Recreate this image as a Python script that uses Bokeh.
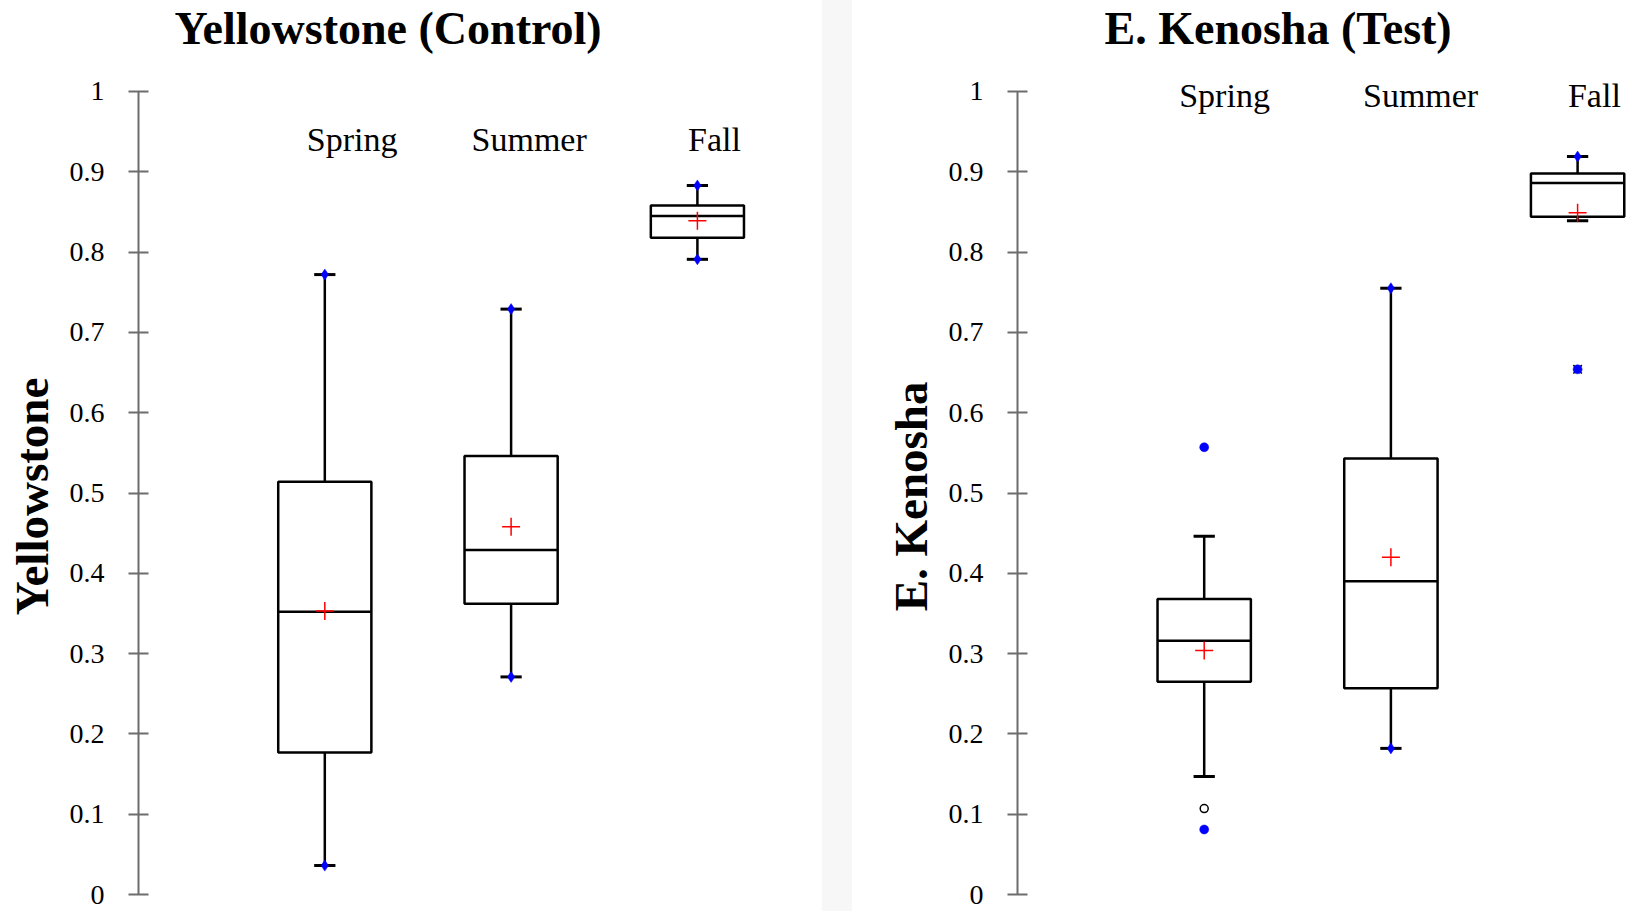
from bokeh.plotting import figure
from bokeh.layouts import row
from bokeh.models import FixedTicker, ColumnDataSource, Div, Range1d
from bokeh.core.properties import value
from bokeh.embed import file_html
from bokeh.resources import INLINE

# ---------------- data ----------------
seasons = ["Spring", "Summer", "Fall"]
season_pos = [1, 2, 3]

# Yellowstone (Control)
ys_whisker_low = [0.036, 0.271, 0.791]
ys_q1 = [0.177, 0.362, 0.818]
ys_median = [0.352, 0.429, 0.845]
ys_q3 = [0.514, 0.546, 0.858]
ys_whisker_high = [0.772, 0.729, 0.883]
ys_mean = [0.353, 0.458, 0.839]
ys_min = [0.036, 0.271, 0.791]
ys_max = [0.772, 0.729, 0.883]
ys_outlier_season = []
ys_outlier_value = []
ys_extreme_season = []
ys_extreme_value = []

# E. Kenosha (Test)
ek_whisker_low = [0.147, 0.182, 0.839]
ek_q1 = [0.265, 0.257, 0.844]
ek_median = [0.316, 0.390, 0.886]
ek_q3 = [0.368, 0.543, 0.898]
ek_whisker_high = [0.446, 0.755, 0.919]
ek_mean = [0.304, 0.420, 0.849]
ek_min = [0.081, 0.182, 0.654]
ek_max = [0.557, 0.755, 0.919]
ek_outlier_season = ["Spring"]
ek_outlier_value = [0.107]
ek_extreme_season = ["Fall"]
ek_extreme_value = [0.654]

y_ticks = [0, 0.1, 0.2, 0.3, 0.4, 0.5, 0.6, 0.7, 0.8, 0.9, 1]
y_tick_labels = ["0", "0.1", "0.2", "0.3", "0.4", "0.5", "0.6", "0.7", "0.8", "0.9", "1"]

FONT = "Liberation Serif"
AXIS_GRAY = "#6d6d6d"
# non-collapsing padding so that the rotated axis title is centred on the 0..1 span
LABEL_PAD = "\u00a0\u00a0\u2009"


def make_panel(title, ylabel, wl, q1, med, q3, wh, mean, vmin, vmax,
               out_s, out_v, ext_s, ext_v, width, border_left, border_right,
               x_end, title_offset, label_dx, label_y):
    p = figure(width=width, height=911, output_backend="svg", toolbar_location=None,
               x_range=Range1d(0, x_end), y_range=Range1d(-0.0149, 1.0473),
               x_axis_location=None, min_border_left=border_left,
               min_border_right=border_right, min_border_top=52, min_border_bottom=5,
               title=title)
    p.outline_line_color = None
    p.grid.visible = False
    p.background_fill_color = "white"
    p.border_fill_color = "white"

    p.title.align = "left"
    p.title.offset = title_offset
    p.title.text_font = FONT
    p.title.text_font_size = "46px"
    p.title.text_font_style = "bold"
    p.title.text_color = "black"
    p.title.standoff = 0

    ax = p.yaxis[0]
    ax.ticker = FixedTicker(ticks=y_ticks)
    ax.major_label_overrides = {t: l for t, l in zip(y_ticks, y_tick_labels)}
    ax.bounds = (0, 1)
    ax.axis_line_color = AXIS_GRAY
    ax.axis_line_width = 2
    ax.major_tick_line_color = AXIS_GRAY
    ax.major_tick_line_width = 2
    ax.major_tick_in = 10
    ax.major_tick_out = 10
    ax.minor_tick_line_color = None
    ax.major_label_text_font = FONT
    ax.major_label_text_font_size = "28px"
    ax.major_label_text_color = "black"
    ax.major_label_standoff = 24
    ax.axis_label = ylabel + LABEL_PAD
    ax.axis_label_text_font = FONT
    ax.axis_label_text_font_size = "47px"
    ax.axis_label_text_font_style = "bold"
    ax.axis_label_text_color = "black"
    ax.axis_label_standoff = 9

    xs = season_pos
    box_half = 0.25
    cap_half = 0.057
    src = ColumnDataSource(dict(
        x=xs, left=[x - box_half for x in xs], right=[x + box_half for x in xs],
        cl=[x - cap_half for x in xs], cr=[x + cap_half for x in xs],
        wl=wl, q1=q1, med=med, q3=q3, wh=wh, mean=mean))

    # whiskers
    p.segment(x0="x", y0="q3", x1="x", y1="wh", source=src, line_color="black", line_width=2.5)
    p.segment(x0="x", y0="q1", x1="x", y1="wl", source=src, line_color="black", line_width=2.5)
    # caps
    p.segment(x0="cl", y0="wh", x1="cr", y1="wh", source=src, line_color="black", line_width=3)
    p.segment(x0="cl", y0="wl", x1="cr", y1="wl", source=src, line_color="black", line_width=3)
    # boxes
    p.quad(left="left", right="right", bottom="q1", top="q3", source=src,
           fill_color="white", line_color="black", line_width=2.5)
    # medians
    p.segment(x0="left", y0="med", x1="right", y1="med", source=src, line_color="black", line_width=2.5)

    # open-circle outliers
    if out_v:
        ox = [season_pos[seasons.index(s)] for s in out_s]
        p.scatter(ox, out_v, marker="circle", size=8, fill_color="white",
                  line_color="black", line_width=1.5)
    # extreme outliers (x marked)
    if ext_v:
        exx = [season_pos[seasons.index(s)] for s in ext_s]
        p.scatter(exx, ext_v, marker="x", size=12, line_color="black", line_width=1.5)

    # min / max markers: diamond when at whisker end, dot when beyond
    dia_x, dia_y, dot_x, dot_y = [], [], [], []
    for i, x in enumerate(xs):
        for v, w in ((vmin[i], wl[i]), (vmax[i], wh[i])):
            if abs(v - w) < 1e-9:
                dia_x.append(x); dia_y.append(v)
            else:
                dot_x.append(x); dot_y.append(v)
    p.scatter(dia_x, dia_y, marker="diamond", size=11, fill_color="blue", line_color="blue", line_width=0.5)
    if dot_x:
        p.scatter(dot_x, dot_y, marker="circle", size=9, fill_color="blue", line_color="blue", line_width=0.5)

    # means
    p.scatter("x", "mean", source=src, marker="cross", size=18, line_color="red", line_width=1.5)

    # season labels
    p.text(x=[x + d for x, d in zip(xs, label_dx)], y=[label_y] * len(xs), text=seasons,
           text_font=value(FONT), text_font_size="34px", text_color="black",
           text_align="center", text_baseline="middle")
    return p


left = make_panel("Yellowstone (Control)", "Yellowstone",
                  ys_whisker_low, ys_q1, ys_median, ys_q3, ys_whisker_high, ys_mean,
                  ys_min, ys_max, ys_outlier_season, ys_outlier_value,
                  ys_extreme_season, ys_extreme_value,
                  width=822, border_left=138, border_right=22, x_end=662 / 186.3,
                  title_offset=36, label_dx=[0.147, 0.097, 0.092], label_y=0.94)

divider = Div(width=30, height=911, margin=(0, 0, 0, 0),
              styles={"background-color": "#f7f7f7"})

right = make_panel("E. Kenosha (Test)", "E. Kenosha",
                   ek_whisker_low, ek_q1, ek_median, ek_q3, ek_whisker_high, ek_mean,
                   ek_min, ek_max, ek_outlier_season, ek_outlier_value,
                   ek_extreme_season, ek_extreme_value,
                   width=779, border_left=165, border_right=0, x_end=614 / 186.7,
                   title_offset=87, label_dx=[0.109, 0.159, 0.090], label_y=0.995)

layout = row(left, divider, right)
open("out.html", "w").write(file_html(layout, INLINE))
